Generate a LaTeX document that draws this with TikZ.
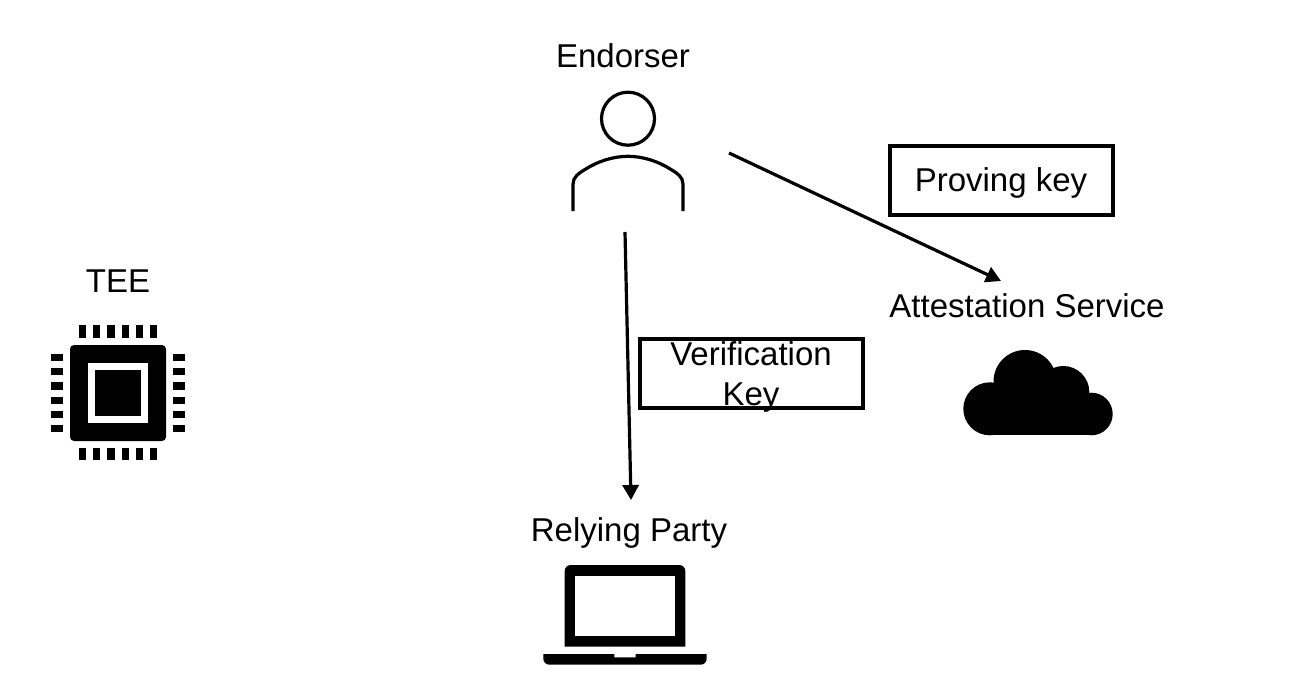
\documentclass[tikz,border=0pt]{standalone}
\usepackage{fontspec}
\setmainfont{Liberation Sans}
\usetikzlibrary{arrows.meta}
\begin{document}
\begin{tikzpicture}[x=1pt,y=-1pt]
	\tikzset{every node/.style={inner sep=0pt,font=\fontsize{33}{40}\selectfont,align=center}}
	\tikzset{keybox/.style={draw=black,line width=4pt,minimum width=223pt,minimum height=69pt}}
	\tikzset{flow/.style={black,line width=3.2pt,-{Triangle[length=15pt,width=16pt]}}}
	\useasboundingbox (0,0) rectangle (1304,698);
	\node (endorserlabel) at (623,55.5) {Endorser};
	\node (teelabel) at (118,281) {TEE};
	\node (attestlabel) at (1027,306) {Attestation Service};
	\node (relyinglabel) at (629,533) {Relying Party};
	\node [keybox] (provingkey) at (1001,180.5) {};
	\node (provinglabel) at (1001,182.5) {Proving key};
	\node [keybox] (verifkey) at (751,373.5) {};
	\node (veriflabel) at (751,376.5) {Verification\\Key};
	\draw [black,line width=3.2pt] (628,118.7) circle (26.5);
	\draw [black,line width=3.2pt] (573,211) -- (573,184) .. controls (573,177) and (579,173) .. (585,169.5) .. controls (598,161) and (614,156.3) .. (628,156.3) .. controls (642,156.3) and (658,161) .. (671,169.5) .. controls (677,173) and (683,177) .. (683,184) -- (683,211);
	\coordinate (endorserright) at (729,153);
	\coordinate (endorserbottom) at (625,232);
	\coordinate (attesttop) at (1001,281);
	\coordinate (relyingtop) at (631,500);
	\draw [flow] (endorserright) -- (attesttop);
	\draw [flow] (endorserbottom) -- (relyingtop);
	\fill [black,rounded corners=4pt] (70,345) rectangle (166,441);
	\fill [white] (88,363) rectangle (148,423);
	\fill [black] (95,370) rectangle (141,416);
	\foreach \i in {0,...,5} {
		\fill [black] (79+14.2*\i,325) rectangle (86.2+14.2*\i,338);
		\fill [black] (79+14.2*\i,447.7) rectangle (86.2+14.2*\i,460.3);
		\fill [black] (50.7,354+14.2*\i) rectangle (63.3,361.2+14.2*\i);
		\fill [black] (172.7,354+14.2*\i) rectangle (185.3,361.2+14.2*\i);
	}
	\fill [black] (989.8,408.8) circle (26.5);
	\fill [black] (1025,381.5) circle (31.5);
	\fill [black] (1063.3,392) circle (26);
	\fill [black] (1091.4,414) circle (21.3);
	\fill [black] (989.8,400) rectangle (1091.4,435.3);
	\fill [black] (564.7,646.7) -- (564.7,600) [rounded corners=6pt] -- (564.7,565) -- (685.3,565) [sharp corners] -- (685.3,600) -- (685.3,646.7) -- cycle;
	\fill [white] (575.3,576) rectangle (674.7,636);
	\fill [black] (614.3,654) -- (543.3,654) [rounded corners=6pt] -- (543.3,664.7) -- (706.7,664.7) [sharp corners] -- (706.7,654) -- (635.7,654) -- (635.7,657.3) -- (614.3,657.3) -- cycle;
\end{tikzpicture}
\end{document}
